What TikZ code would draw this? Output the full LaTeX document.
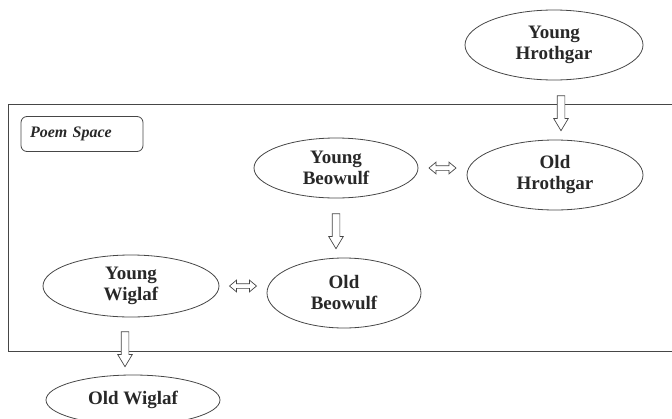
\documentclass[tikz,border=0pt]{standalone}
\usepackage{fontspec}
\setmainfont{Liberation Serif}
\usetikzlibrary{positioning,shapes.geometric,shapes.arrows}
\definecolor{cink}{RGB}{40,40,40}
\definecolor{cline}{RGB}{70,70,70}

\begin{document}
\begin{tikzpicture}[x=1pt, y=-1pt,
  person/.style={ellipse, draw=cline, line width=0.8pt, align=center, text=cink,
                 inner sep=0pt, font=\fontsize{19}{21}\selectfont\bfseries},
  label/.style={rounded corners=6pt, draw=cline, line width=0.8pt, text=cink,
                minimum width=122pt, minimum height=35pt, text width=104pt,
                font=\fontsize{16}{18}\selectfont\bfseries\itshape},
  ages/.style={single arrow, draw=cline, line width=0.7pt, fill=white, inner sep=3.5pt,
               minimum height=35pt, single arrow head extend=3.5pt,
               single arrow tip angle=62, sloped, allow upside down},
  peers/.style={double arrow, draw=cline, line width=0.7pt, fill=white, inner sep=2pt,
               minimum height=27pt, double arrow head extend=3.5pt,
               double arrow tip angle=80, sloped, allow upside down}]
\useasboundingbox (0,0) rectangle (672,418);
\clip (0,0) rectangle (672,418);
% poem frame, open at the right
\draw[cline, line width=0.8pt] (680,104) -- (8,104) -- (8,351) -- (680,351);
\node[label] (space) at (82,134) {Poem Space};
% characters
\node[person, minimum width=178pt, minimum height=70pt] (yh) at (554,45)  {Young\\Hrothgar};
\node[person, minimum width=176pt, minimum height=70pt] (oh) at (555,175) {Old\\Hrothgar};
\node[person, minimum width=164pt, minimum height=60pt] (yb) at (336,168) {Young\\Beowulf};
\node[person, minimum width=154pt, minimum height=70pt] (ob) at (344,293) {Old\\Beowulf};
\node[person, minimum width=176pt, minimum height=62pt] (yw) at (131,286) {Young\\Wiglaf};
\node[person, minimum width=174pt, minimum height=50pt] (ow) at (133,400) {Old Wiglaf};
% growing old
\path ([xshift=7pt]yh.south) -- node[ages] {} ([xshift=7pt]yh.south |- oh.north);
\path (yb.south) -- node[ages] {} (yb.south |- ob.north);
\path ([xshift=-6pt]yw.south) -- node[ages] {} ([xshift=-6pt]yw.south |- ow.north);
% mirrors
\path (yb.east) -- node[peers] {} (yb.east -| oh.west);
\path (yw.east) -- node[peers] {} (yw.east -| ob.west);
\end{tikzpicture}
\end{document}
